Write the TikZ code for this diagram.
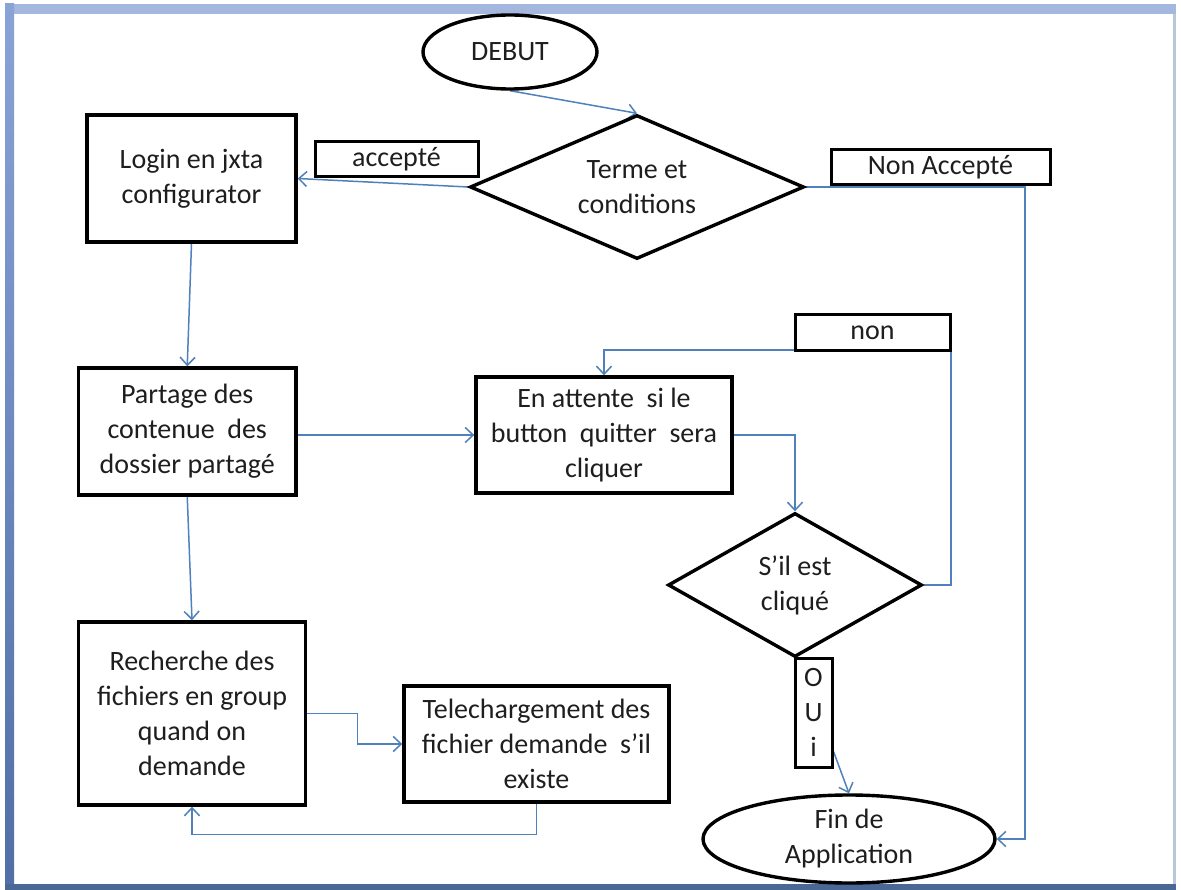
\documentclass[tikz,border=0pt]{standalone}
\usepackage{fontspec}
\setmainfont{Carlito}
\usetikzlibrary{shapes.geometric,arrows.meta,calc}
\pgfdeclarelayer{bg}
\pgfsetlayers{bg,main}
\definecolor{link}{HTML}{4F81BD}
\definecolor{frametop}{HTML}{A3B7DF}
\definecolor{frameleftA}{HTML}{8AA3D6}
\definecolor{frameleftB}{HTML}{4F6FA6}
\definecolor{framebot}{HTML}{4A6796}
\definecolor{frameright}{HTML}{BAC6DA}
\definecolor{ink}{HTML}{1E1E1E}
\begin{document}
\begin{tikzpicture}[x=1pt,y=-1pt,
  txt/.style={font=\fontsize{28}{35}\selectfont, text=ink, align=center},
  box/.style={txt, draw=black, line width=3.4pt, rectangle, inner sep=0pt},
  tag/.style={box, line width=3pt},
  decision/.style={txt, draw=black, line width=3.4pt, diamond, inner sep=0pt},
  terminal/.style={txt, draw=black, line width=3.4pt, ellipse, inner sep=0pt},
  arr/.style={draw=link, line width=1.5pt, -{Straight Barb[length=8pt,width=15pt]}}
]
\useasboundingbox (0,0) rectangle (1181,890);

% page frame
\begin{pgfonlayer}{bg}
\fill[white] (0,0) rectangle (1181,890);
\fill[frametop] (5,4) rectangle (1176,14);
\shade[top color=frameleftA, bottom color=frameleftB] (5,4) rectangle (14,890);
\fill[framebot] (5,884) rectangle (1176,890);
\fill[frameright] (1172.5,14) rectangle (1175.5,884);
\end{pgfonlayer}

% terminals
\node[terminal, minimum width=174pt, minimum height=74pt] (debut) at (510,52) {DEBUT};
\node[terminal, minimum width=292pt, minimum height=88pt] (fin) at (849,839) {Fin de\\Application};

% decisions
\node[decision, aspect=2.3, minimum width=334pt, minimum height=144pt] (terms) at (637,187) {Terme et\\conditions};
\node[decision, aspect=1.76, minimum width=254pt, minimum height=144pt] (clicked) at (795,585) {S’il est\\cliqué};

% process boxes
\node[box, minimum width=209pt, minimum height=127pt] (login) at (191.5,178.5) {Login en jxta\\configurator};
\node[box, minimum width=217.5pt, minimum height=127pt] (share) at (187.25,431.5) {Partage des\\contenue~ des\\dossier partagé};
\node[box, minimum width=256pt, minimum height=116pt] (wait) at (604,435) {En attente~ si le\\button~ quitter~ sera\\cliquer};
\node[box, minimum width=227pt, minimum height=183pt] (search) at (192,713.5) {Recherche des\\fichiers en group\\quand on\\demande};
\node[box, minimum width=265pt, minimum height=116pt] (download) at (536.5,744) {Telechargement des\\fichier demande~ s’il\\existe};

% branch labels
\node[tag, minimum width=163pt, minimum height=35pt] (accepted) at (396.5,159.5) {accepté};
\node[tag, minimum width=219pt, minimum height=35pt] (refused) at (940.5,167.5) {Non Accepté};
\node[tag, minimum width=155pt, minimum height=36pt] (no) at (872.5,333) {non};
\node[tag, minimum width=37pt, minimum height=109pt] (yes) at (813.5,712.5) {O\\U\\i};

% connectors
\coordinate (refusedturn) at (1025,187);
\coordinate (loopturn) at (951,350);
\begin{pgfonlayer}{bg}
\draw[arr] (debut.south) -- (terms.north);
\draw[arr] (terms.west) -- (login.east);
\draw[arr] (terms.east) -- (refusedturn) |- (fin.east);
\draw[arr] (login.south) -- (share.north);
\draw[arr] (wait.west -| share.east) -- (wait.west);
\draw[arr] (wait.east) -| (clicked.north);
\draw[arr] (clicked.east) -| (loopturn) -| (wait.north);
\draw[arr] ($(yes.south east)+(0,-17)$) -- (fin.north);
\draw[arr] (share.south) -- (search.north);
\draw[arr] (search.east) -- ++(50.5,0) |- (download.west);
\draw[arr] (download.south) -- ++(0,31) -| (search.south);
\end{pgfonlayer}
\end{tikzpicture}
\end{document}
